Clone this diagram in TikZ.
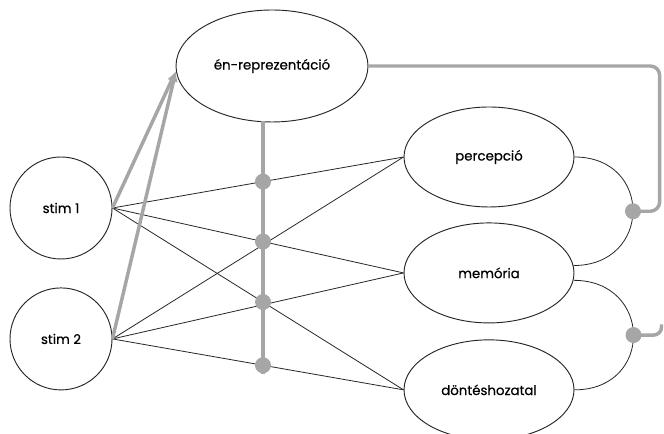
\documentclass[tikz,border=0pt]{standalone}
\usepackage{fontspec}
\setmainfont{Poppins}
\newfontfamily\labelfont{Poppins}[FakeBold=0.5]
\usetikzlibrary{arrows.meta,positioning,shapes.geometric}

\begin{document}
\begin{tikzpicture}[x=0.75pt,y=0.75pt,font=\labelfont\fontsize{10}{12}\selectfont,
  blob/.style={ellipse,draw=black!85,line width=0.7pt,fill=white,inner sep=0pt},
  wire/.style={line width=0.6pt,black!85},
  greyline/.style={line width=2.6pt,black!35},
  knot/.style={circle,fill=black!35,inner sep=0pt,minimum size=12pt}]
\useasboundingbox (0,0) rectangle (664,434);
\node[blob,minimum width=76.5pt,minimum height=76.5pt] (s1) at (61,226) {stim 1};
\node[blob,minimum width=76.5pt,minimum height=76.5pt,below=21pt of s1] (s2) {stim 2};
\node[blob,minimum width=144pt,minimum height=84pt] (en) at (272,368) {én-reprezentáció};
\node[blob,minimum width=127.5pt,minimum height=75pt] (perc) at (489,277) {percepció};
\node[blob,minimum width=127.5pt,minimum height=75pt,below=11.25pt of perc] (mem) {memória};
\node[blob,minimum width=127.5pt,minimum height=75pt,below=12pt of mem] (dont) {döntéshozatal};
\coordinate (vt) at (263,313);
\coordinate (vb) at (263,60);
\draw[wire] (s1.east) -- (perc.west);
\draw[wire] (s1.east) -- (mem.west);
\draw[wire] (s1.east) -- (dont.west);
\draw[wire] (s2.east) -- (perc.west);
\draw[wire] (s2.east) -- (mem.west);
\draw[wire] (s2.east) -- (dont.west);
\draw[greyline] (vt) -- (vb);
\node[knot] (d1) at (intersection of s1.east--perc.west and vt--vb) {};
\node[knot] (d2) at (intersection of s1.east--mem.west and vt--vb) {};
\node[knot] (d3) at (intersection of s1.east--dont.west and vt--vb) {};
\node[knot] (d4) at (intersection of s2.east--dont.west and vt--vb) {};
\draw[greyline,-{Latex[length=8pt,width=6.5pt]}] (s1.east) -- (en.183);
\draw[greyline,-{Latex[length=8pt,width=6.5pt]}] (s2.east) -- (en.183);
\draw[wire] (perc.east) to[out=0,in=0,looseness=1.85] node[knot,pos=0.5] (dt1) {} (mem.5);
\draw[wire] (mem.-5) to[out=0,in=0,looseness=1.85] node[knot,pos=0.5] (dt2) {} (dont.east);
\draw[greyline,rounded corners=7pt] (en.east) -| ([xshift=20pt]dt1.center) -- (dt1.center);
\draw[greyline,rounded corners=6pt] (dt2.center) -| ([xshift=21pt,yshift=8pt]dt2.center);
\end{tikzpicture}
\end{document}
